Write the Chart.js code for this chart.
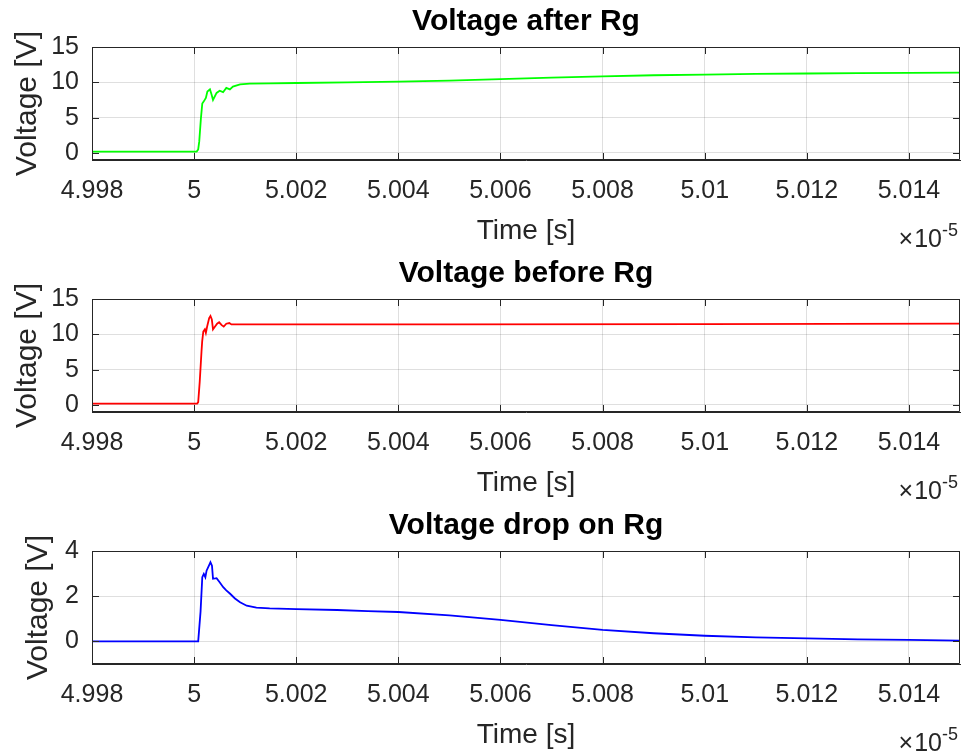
<!DOCTYPE html>
<html>
<head>
<meta charset="utf-8">
<script src="https://cdn.jsdelivr.net/npm/chart.js@4/dist/chart.umd.min.js"></script>
<style>
  html, body { margin: 0; padding: 0; background: #fff; }
  #wrap { position: relative; width: 967px; height: 756px; }
  canvas { position: absolute; left: 0; }
</style>
</head>
<body>
<div id="wrap">
  <canvas id="c1" width="967" height="252" style="top:0"></canvas>
  <canvas id="c2" width="967" height="252" style="top:252px"></canvas>
  <canvas id="c3" width="967" height="252" style="top:504px"></canvas>
</div>
<script>
// time values are in units of 1e-5 s (axis shows x10^-5)
const xTickValues = [4.998, 5.000, 5.002, 5.004, 5.006, 5.008, 5.010, 5.012, 5.014];
const xMin = 4.998, xMax = 5.015;

// Voltage after Rg
const timeAfter = [4.998, 5.00005, 5.00008, 5.0001, 5.000133, 5.00016, 5.00019, 5.00023, 5.00026, 5.00031, 5.00034, 5.00037, 5.00044, 5.0005, 5.000567, 5.00063, 5.0007, 5.00076, 5.0009, 5.00109, 5.0015, 5.002, 5.003, 5.004, 5.005, 5.006, 5.007, 5.008, 5.009, 5.010, 5.011, 5.012, 5.013, 5.014, 5.015];
const voltAfter = [0.2, 0.2, 0.5, 1.6, 4.9, 7.0, 7.3, 7.8, 8.7, 9.0, 8.3, 7.5, 8.5, 8.8, 8.6, 9.2, 9.0, 9.4, 9.7, 9.8, 9.85, 9.9, 10.0, 10.1, 10.25, 10.45, 10.65, 10.85, 11.0, 11.1, 11.2, 11.25, 11.3, 11.33, 11.38];

// Voltage before Rg
const timeBefore = [4.998, 5.00006, 5.00008, 5.00011, 5.000145, 5.000158, 5.00018, 5.00021, 5.00023, 5.000255, 5.000295, 5.00032, 5.000347, 5.00037, 5.00041, 5.00045, 5.00049, 5.00054, 5.00058, 5.00063, 5.00069, 5.00073, 5.00083, 5.002, 5.005, 5.010, 5.015];
const voltBefore = [0.2, 0.2, 0.4, 3.3, 7.6, 9.0, 10.4, 10.7, 10.2, 11.1, 12.3, 12.6, 12.1, 10.7, 11.1, 11.5, 11.7, 11.3, 11.1, 11.5, 11.6, 11.4, 11.4, 11.4, 11.4, 11.45, 11.5];

// Voltage drop on Rg
const timeDrop = [4.998, 5.00008, 5.000126, 5.00016, 5.00019, 5.00022, 5.000244, 5.00029, 5.00032, 5.00035, 5.00037, 5.00044, 5.0005, 5.00057, 5.00063, 5.0007, 5.0008, 5.0009, 5.00103, 5.00122, 5.00148, 5.002, 5.0028, 5.0034, 5.004, 5.005, 5.006, 5.007, 5.008, 5.009, 5.010, 5.011, 5.012, 5.013, 5.014, 5.015];
const voltDrop = [0, 0, 1.32, 2.84, 2.99, 2.84, 3.13, 3.35, 3.5, 3.35, 2.77, 2.8, 2.62, 2.4, 2.26, 2.12, 1.9, 1.73, 1.58, 1.49, 1.46, 1.43, 1.39, 1.34, 1.3, 1.15, 0.95, 0.72, 0.51, 0.36, 0.25, 0.18, 0.13, 0.09, 0.07, 0.03];

const FONT = "'Liberation Sans', Arial, Helvetica, sans-serif";
const AXIS_COLOR = '#262626';
const GRID_COLOR = 'rgba(38,38,38,0.15)';

// box on top/right, inward tick marks, and the x10^-5 exponent label
const matlabAxes = {
    id: 'matlabAxes',
    afterDraw(chart) {
        const ctx = chart.ctx;
        const a = chart.chartArea;
        const xs = chart.scales.x, ys = chart.scales.y;
        const len = 7;
        ctx.save();
        ctx.strokeStyle = AXIS_COLOR;
        ctx.lineWidth = 1;
        ctx.beginPath();
        ctx.rect(a.left + 0.5, a.top + 0.5, a.right - a.left - 1, a.bottom - a.top - 1);
        xs.ticks.forEach(t => {
            const px = Math.round(xs.getPixelForValue(t.value)) + 0.5;
            ctx.moveTo(px, a.bottom); ctx.lineTo(px, a.bottom - len);
            ctx.moveTo(px, a.top); ctx.lineTo(px, a.top + len);
        });
        ys.ticks.forEach(t => {
            const py = Math.round(ys.getPixelForValue(t.value)) + 0.5;
            ctx.moveTo(a.left, py); ctx.lineTo(a.left + len, py);
            ctx.moveTo(a.right, py); ctx.lineTo(a.right - len, py);
        });
        ctx.stroke();

        // exponent label
        ctx.fillStyle = AXIS_COLOR;
        ctx.textBaseline = 'alphabetic';
        ctx.textAlign = 'right';
        ctx.font = '18px ' + FONT;
        const supW = ctx.measureText('-5').width;
        ctx.fillText('-5', 958, 236);
        ctx.font = '25px ' + FONT;
        const tenW = ctx.measureText('10').width;
        ctx.fillText('10', 958 - supW, 247);
        ctx.fillText('\u00d7', 958 - supW - tenW - 1, 247);
        ctx.restore();
    }
};

function makeChart(id, title, times, volts, color, yMin, yMax, yTicks, yTitlePad) {
    const points = times.map((t, i) => ({ x: t, y: volts[i] }));
    return new Chart(document.getElementById(id), {
        type: 'line',
        data: {
            datasets: [{
                data: points,
                borderColor: color,
                borderWidth: 1.8,
                pointRadius: 0,
                tension: 0,
                fill: false
            }]
        },
        options: {
            responsive: false,
            animation: false,
            devicePixelRatio: 1,
            layout: { padding: { left: 0, right: 7, top: 0, bottom: 0 } },
            plugins: {
                legend: { display: false },
                tooltip: { enabled: false },
                title: {
                    display: true,
                    fullSize: false,
                    text: title,
                    color: '#000',
                    font: { family: FONT, size: 30, weight: 'bold' },
                    padding: { top: 4, bottom: 7 }
                }
            },
            scales: {
                x: {
                    type: 'linear',
                    min: xMin,
                    max: xMax,
                    afterBuildTicks: s => { s.ticks = xTickValues.map(v => ({ value: v })); },
                    afterFit: s => { s.height = 92; },
                    ticks: {
                        color: AXIS_COLOR,
                        font: { family: FONT, size: 25 },
                        padding: 16,
                        maxRotation: 0,
                        autoSkip: false,
                        callback: v => String(parseFloat(v.toFixed(3)))
                    },
                    grid: { color: GRID_COLOR, drawTicks: false },
                    border: { color: AXIS_COLOR },
                    title: {
                        display: true,
                        text: 'Time [s]',
                        color: AXIS_COLOR,
                        font: { family: FONT, size: 28 },
                        padding: { top: 0, bottom: 4 }
                    }
                },
                y: {
                    min: yMin,
                    max: yMax,
                    afterBuildTicks: s => { s.ticks = yTicks.map(v => ({ value: v })); },
                    afterFit: s => { s.width = 92; },
                    ticks: {
                        color: AXIS_COLOR,
                        font: { family: FONT, size: 25 },
                        padding: 13
                    },
                    grid: { color: GRID_COLOR, drawTicks: false },
                    border: { color: AXIS_COLOR },
                    title: {
                        display: true,
                        text: 'Voltage [V]',
                        color: AXIS_COLOR,
                        font: { family: FONT, size: 30 },
                        padding: { top: yTitlePad, bottom: 0 }
                    }
                }
            }
        },
        plugins: [matlabAxes]
    });
}

makeChart('c1', 'Voltage after Rg', timeAfter, voltAfter, '#00ff00', -1, 15, [0, 5, 10, 15], 10);
makeChart('c2', 'Voltage before Rg', timeBefore, voltBefore, '#ff0000', -1, 15, [0, 5, 10, 15], 10);
makeChart('c3', 'Voltage drop on Rg', timeDrop, voltDrop, '#0000ff', -1, 4, [0, 2, 4], 21);
</script>
</body>
</html>
